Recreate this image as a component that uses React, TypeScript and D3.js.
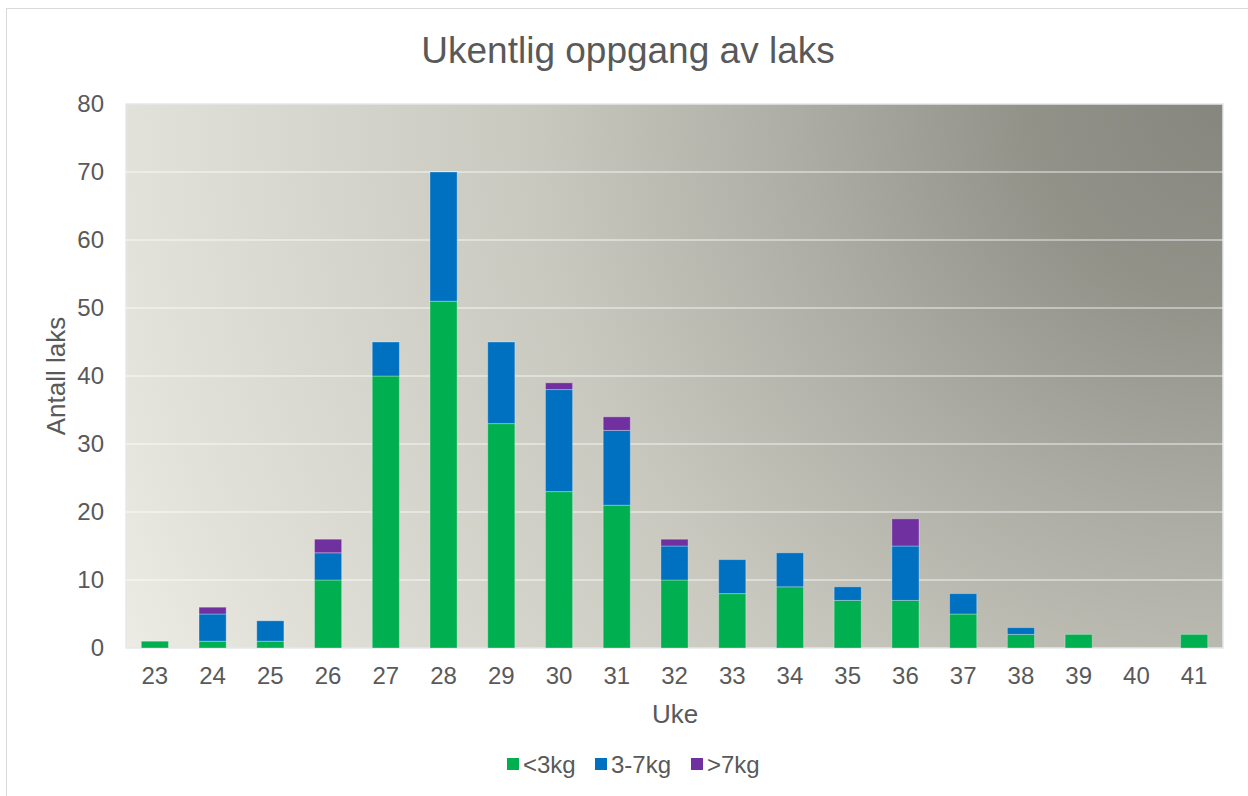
import React, { useEffect, useRef } from "react";
import * as d3 from "d3";

// Weekly salmon counts by weight class
const WEEKS = ["23", "24", "25", "26", "27", "28", "29", "30", "31", "32", "33", "34", "35", "36", "37", "38", "39", "40", "41"];
const SMALL = [1, 1, 1, 10, 40, 51, 33, 23, 21, 10, 8, 9, 7, 7, 5, 2, 2, 0, 2];
const MEDIUM = [0, 4, 3, 4, 5, 19, 12, 15, 11, 5, 5, 5, 2, 8, 3, 1, 0, 0, 0];
const LARGE = [0, 1, 0, 2, 0, 0, 0, 1, 2, 1, 0, 0, 0, 4, 0, 0, 0, 0, 0];
const SERIES = ["<3kg", "3-7kg", ">7kg"];
const COLORS = ["#00b050", "#0070c0", "#7030a0"];
const Y_TICKS = [0, 10, 20, 30, 40, 50, 60, 70, 80];

const W = 1248;
const H = 796;
const FONT = "'Liberation Sans', Arial, sans-serif";
const TEXT = "#595959";

export default function App() {
  const svgRef = useRef<SVGSVGElement>(null);

  useEffect(() => {
    if (!svgRef.current) return;
    const svg = d3.select(svgRef.current);
    svg.selectAll("*").remove();

    const left = 126, right = 1223, top = 104, bottom = 648;

    // outer chart frame
    svg.append("rect")
      .attr("x", 6.5).attr("y", 8.5)
      .attr("width", W + 20).attr("height", H + 20)
      .attr("fill", "#fff").attr("stroke", "#d9d9d9");

    // plot background: radial fade from top-right corner
    const defs = svg.append("defs");
    const grad = defs.append("radialGradient")
      .attr("id", "bg")
      .attr("gradientUnits", "userSpaceOnUse")
      .attr("cx", right).attr("cy", top)
      .attr("fx", right).attr("fy", top)
      .attr("r", Math.hypot(right - left, bottom - top));
    [
      [0, "#86867e"],
      [0.16, "#929289"],
      [0.35, "#adada5"],
      [0.45, "#babab1"],
      [0.56, "#c8c8bf"],
      [0.9, "#e2e2da"],
      [1, "#ececE4"],
    ].forEach(([o, c]) => grad.append("stop").attr("offset", o as number).attr("stop-color", c as string));

    svg.append("rect")
      .attr("x", left).attr("y", top)
      .attr("width", right - left).attr("height", bottom - top)
      .attr("fill", "url(#bg)")
      .attr("stroke", "#e3e8ee").attr("stroke-width", 1.5);

    const x = d3.scaleBand<string>().domain(WEEKS).range([left, right]).paddingInner(0.53).paddingOuter(0.265);
    const y = d3.scaleLinear().domain([0, 80]).range([bottom, top]);

    // gridlines
    svg.append("g")
      .selectAll("line")
      .data(Y_TICKS.slice(1, -1))
      .join("line")
      .attr("x1", left).attr("x2", right)
      .attr("y1", (d) => y(d)).attr("y2", (d) => y(d))
      .attr("stroke", "#ffffff").attr("stroke-opacity", 0.55).attr("stroke-width", 1.5);

    // stacked bars
    const rows = WEEKS.map((w, i) => ({ week: w, s0: SMALL[i], s1: MEDIUM[i], s2: LARGE[i] }));
    const stack = d3.stack<any>().keys(["s0", "s1", "s2"]);
    const layers = stack(rows);

    svg.append("g")
      .selectAll("g")
      .data(layers)
      .join("g")
      .attr("fill", (_, i) => COLORS[i])
      .selectAll("rect")
      .data((d) => d.filter((p) => p[1] - p[0] > 0))
      .join("rect")
      .attr("x", (d) => x(d.data.week)!)
      .attr("y", (d) => y(d[1]))
      .attr("width", x.bandwidth())
      .attr("height", (d) => y(d[0]) - y(d[1]))
      .attr("stroke", "#ffffff").attr("stroke-opacity", 0.3).attr("stroke-width", 1);

    // y tick labels
    svg.append("g")
      .selectAll("text")
      .data(Y_TICKS)
      .join("text")
      .attr("x", 104)
      .attr("y", (d) => y(d))
      .attr("dy", "0.35em")
      .attr("text-anchor", "end")
      .attr("font-family", FONT).attr("font-size", 24).attr("fill", TEXT)
      .text((d) => d);

    // x tick labels
    svg.append("g")
      .selectAll("text")
      .data(WEEKS)
      .join("text")
      .attr("x", (d) => x(d)! + x.bandwidth() / 2)
      .attr("y", 684)
      .attr("text-anchor", "middle")
      .attr("font-family", FONT).attr("font-size", 24).attr("fill", TEXT)
      .text((d) => d);

    // title
    svg.append("text")
      .attr("x", 628).attr("y", 63)
      .attr("text-anchor", "middle")
      .attr("font-family", FONT).attr("font-size", 37).attr("fill", TEXT)
      .text("Ukentlig oppgang av laks");

    // axis titles
    svg.append("text")
      .attr("x", 675).attr("y", 723)
      .attr("text-anchor", "middle")
      .attr("font-family", FONT).attr("font-size", 26).attr("fill", TEXT)
      .text("Uke");

    svg.append("text")
      .attr("transform", `translate(65, 376) rotate(-90)`)
      .attr("text-anchor", "middle")
      .attr("font-family", FONT).attr("font-size", 26).attr("fill", TEXT)
      .text("Antall laks");

    // legend
    const legendX = [507, 595, 691];
    const lg = svg.append("g")
      .selectAll("g")
      .data(SERIES)
      .join("g")
      .attr("transform", (_, i) => `translate(${legendX[i]}, 758)`);
    lg.append("rect")
      .attr("width", 12).attr("height", 12)
      .attr("fill", (_, i) => COLORS[i]);
    lg.append("text")
      .attr("x", 16).attr("y", 15)
      .attr("font-family", FONT).attr("font-size", 24).attr("fill", TEXT)
      .text((d) => d);
  }, []);

  return (
    <svg
      ref={svgRef}
      width={W}
      height={H}
      style={{ position: "fixed", left: 0, top: 0, display: "block" }}
    />
  );
}
